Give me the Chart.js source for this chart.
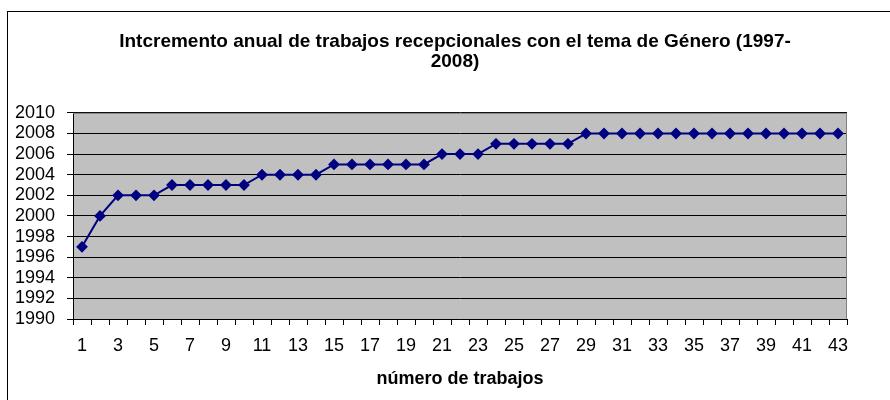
<!DOCTYPE html>
<html>
<head>
<meta charset="utf-8">
<script src="https://cdn.jsdelivr.net/npm/chart.js@4.4.0/dist/chart.umd.min.js"></script>
<style>
    html, body { margin: 0; padding: 0; background: #fff; }
    #wrap { width: 890px; height: 400px; position: relative; }
</style>
</head>
<body>
<div id="wrap"><canvas id="chart"></canvas></div>
<script>
// Chart data
const categories = ['1', '2', '3', '4', '5', '6', '7', '8', '9', '10',
    '11', '12', '13', '14', '15', '16', '17', '18', '19', '20',
    '21', '22', '23', '24', '25', '26', '27', '28', '29', '30',
    '31', '32', '33', '34', '35', '36', '37', '38', '39', '40',
    '41', '42', '43'];
const years = [1997, 2000, 2002, 2002, 2002, 2003, 2003, 2003, 2003, 2003,
    2004, 2004, 2004, 2004, 2005, 2005, 2005, 2005, 2005, 2005,
    2006, 2006, 2006, 2007, 2007, 2007, 2007, 2007, 2008, 2008,
    2008, 2008, 2008, 2008, 2008, 2008, 2008, 2008, 2008, 2008,
    2008, 2008, 2008];
const yMin = 1990;
const yMax = 2010;
const yStep = 2;
const titleLines = ['Intcremento anual de trabajos recepcionales con el tema de Género (1997-', '2008)'];
const xTitle = 'número de trabajos';

const FONT = 'Arial, "Liberation Sans", sans-serif';

// Gray plot background, gray top/right edge and the outer frame
const framePlugin = {
    id: 'frame',
    afterLayout(chart) {
        // center the title a bit more to the right, like the original
        const t = chart.titleBlock;
        if (t) {
            t.left = 20;
            t.right = 890;
            t.width = 870;
        }
    },
    beforeDraw(chart) {
        const ctx = chart.ctx;
        const a = chart.chartArea;
        ctx.save();
        ctx.fillStyle = '#c0c0c0';
        ctx.fillRect(a.left, a.top, a.right - a.left, a.bottom - a.top);
        ctx.restore();
    },
    afterDraw(chart) {
        const ctx = chart.ctx;
        const a = chart.chartArea;
        ctx.save();
        ctx.strokeStyle = '#808080';
        ctx.lineWidth = 1;
        ctx.beginPath();
        ctx.moveTo(a.left, a.top + 0.5);
        ctx.lineTo(a.right - 0.5, a.top + 0.5);
        ctx.lineTo(a.right - 0.5, a.bottom);
        ctx.stroke();
        ctx.strokeStyle = '#000';
        ctx.strokeRect(7.5, 11.5, 2000, 2000);
        ctx.restore();
    }
};

const ctx = document.getElementById('chart').getContext('2d');
const chart = new Chart(ctx, {
    type: 'line',
    data: {
        labels: categories,
        datasets: [{
            data: years,
            borderColor: '#000080',
            backgroundColor: '#000080',
            borderWidth: 2,
            pointStyle: 'rectRot',
            pointRadius: 4.5,
            pointBackgroundColor: '#000080',
            pointBorderColor: '#000080',
            tension: 0
        }]
    },
    options: {
        responsive: true,
        maintainAspectRatio: false,
        animation: false,
        layout: {
            padding: { left: 7, right: 0, top: 12, bottom: 0 }
        },
        plugins: {
            legend: { display: false },
            tooltip: { enabled: false },
            title: {
                display: true,
                text: titleLines,
                color: '#000',
                font: { family: FONT, size: 19, weight: 'bold', lineHeight: 1.05 },
                padding: { top: 20, bottom: 41 }
            }
        },
        scales: {
            x: {
                offset: true,
                grid: {
                    offset: true,
                    drawOnChartArea: false,
                    drawTicks: true,
                    tickLength: 6,
                    color: '#000'
                },
                border: { color: '#000', width: 1 },
                ticks: {
                    autoSkip: false,
                    maxRotation: 0,
                    color: '#000',
                    padding: 10,
                    font: { family: FONT, size: 18 },
                    callback: function(value, index) {
                        return index % 2 === 0 ? categories[index] : '';
                    }
                },
                title: {
                    display: true,
                    text: xTitle,
                    color: '#000',
                    font: { family: FONT, size: 18, weight: 'bold' },
                    padding: { top: 0, bottom: 10 }
                },
                afterFit: function(scale) { scale.height = 81; }
            },
            y: {
                min: yMin,
                max: yMax,
                grid: {
                    color: '#000',
                    lineWidth: 1,
                    drawTicks: true,
                    tickLength: 6
                },
                border: { color: '#000', width: 1 },
                ticks: {
                    stepSize: yStep,
                    autoSkip: false,
                    color: '#000',
                    padding: 12,
                    font: { family: FONT, size: 18 },
                    callback: function(value) { return String(value); }
                },
                afterFit: function(scale) { scale.width = 66; }
            },
            // empty right axis, only reserves the space right of the plot
            yRight: {
                position: 'right',
                grid: { display: false },
                border: { display: false },
                ticks: { display: false },
                afterFit: function(scale) { scale.width = 43; }
            }
        }
    },
    plugins: [framePlugin]
});
</script>
</body>
</html>
